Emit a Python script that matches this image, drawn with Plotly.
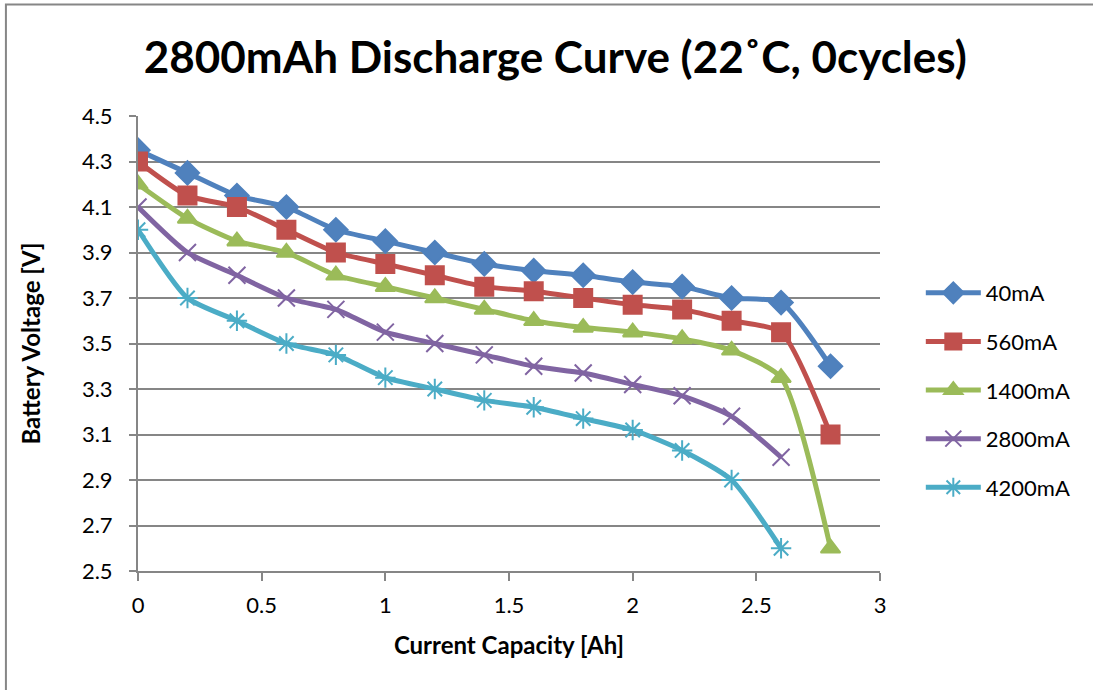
import plotly.graph_objects as go

capacity = [0.0, 0.2, 0.4, 0.6, 0.8, 1.0, 1.2, 1.4, 1.6, 1.8, 2.0, 2.2, 2.4, 2.6, 2.8]

v_40 = [4.35, 4.25, 4.15, 4.10, 4.00, 3.95, 3.90, 3.85, 3.82, 3.80, 3.77, 3.75, 3.70, 3.68, 3.40]
v_560 = [4.30, 4.15, 4.10, 4.00, 3.90, 3.85, 3.80, 3.75, 3.73, 3.70, 3.67, 3.65, 3.60, 3.55, 3.10]
v_1400 = [4.20, 4.05, 3.95, 3.90, 3.80, 3.75, 3.70, 3.65, 3.60, 3.57, 3.55, 3.52, 3.47, 3.35, 2.60]
v_2800 = [4.10, 3.90, 3.80, 3.70, 3.65, 3.55, 3.50, 3.45, 3.40, 3.37, 3.32, 3.27, 3.18, 3.00]
v_4200 = [4.00, 3.70, 3.60, 3.50, 3.45, 3.35, 3.30, 3.25, 3.22, 3.17, 3.12, 3.03, 2.90, 2.60]

series_names = ["40mA", "560mA", "1400mA", "2800mA", "4200mA"]
series_values = [v_40, v_560, v_1400, v_2800, v_4200]
colors = ["#4F81BD", "#C0504D", "#9BBB59", "#8064A2", "#4BACC6"]
symbols = ["diamond", "square", "triangle-up", "x-thin-open", "asterisk-open"]
msizes = [18, 18, 17, 17, 17]

y_ticks = [2.5, 2.7, 2.9, 3.1, 3.3, 3.5, 3.7, 3.9, 4.1, 4.3, 4.5]
x_ticks = [0, 0.5, 1, 1.5, 2, 2.5, 3]

FONT = "Lato, Carlito, Calibri, sans-serif"

fig = go.Figure()
for name, vals, c, s, ms in zip(series_names, series_values, colors, symbols, msizes):
    fig.add_trace(go.Scatter(
        x=capacity[:len(vals)], y=vals, name=name, legendgroup=name,
        mode="lines+markers",
        line=dict(color=c, width=5, shape="spline", smoothing=0.6),
        marker=dict(symbol=s, size=ms, color=c, line=dict(color=c, width=2)),
    ))

fig.update_layout(
    width=1093, height=690,
    margin=dict(l=138, r=213, t=116, b=119),
    paper_bgcolor="white", plot_bgcolor="white",
    font=dict(family=FONT, size=22, color="black"),
    title=dict(text="<b>2800mAh Discharge Curve (22˚C, 0cycles)</b>",
               x=0.508, xanchor="center", y=0.917, yanchor="middle",
               font=dict(family=FONT, size=44, color="black")),
    xaxis=dict(range=[0, 3], tickvals=x_ticks, ticktext=[str(t) for t in x_ticks],
               showgrid=False, zeroline=False, showline=True, linecolor="#868686", linewidth=2,
               ticks="outside", ticklen=8, tickcolor="#868686", tickwidth=2,
               ticklabelstandoff=6,
               title=dict(text="<b>Current Capacity [Ah]</b>", font=dict(size=24), standoff=20),
               tickfont=dict(size=22)),
    yaxis=dict(range=[2.5, 4.5], tickvals=y_ticks, ticktext=[f"{t:.1f}" for t in y_ticks],
               showgrid=True, gridcolor="#868686", gridwidth=2, zeroline=False,
               showline=True, linecolor="#868686", linewidth=2,
               ticks="outside", ticklen=7, tickcolor="#868686", tickwidth=2,
               ticklabelstandoff=12,
               title=dict(text="<b>Battery Voltage [V]</b>", font=dict(size=24), standoff=34),
               tickfont=dict(size=22)),
    legend=dict(x=1.055, y=0.657, xanchor="left", yanchor="top",
                font=dict(size=22), tracegroupgap=17, itemwidth=55,
                bgcolor="rgba(0,0,0,0)"),
    shapes=[dict(type="rect", xref="paper", yref="paper",
                 x0=-0.178, x1=1.4, y0=-0.4, y1=1.245,
                 line=dict(color="#868686", width=2), fillcolor="rgba(0,0,0,0)", layer="below")],
)

fig.write_html("out.html")
